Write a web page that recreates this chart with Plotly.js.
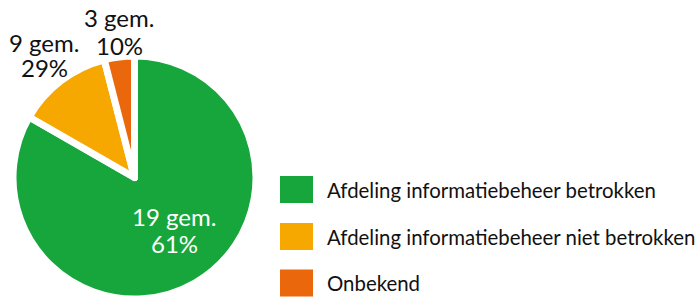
<!DOCTYPE html>
<html>
<head>
<meta charset="utf-8">
<script src="https://cdn.plot.ly/plotly-3.0.1.min.js"></script>
<style>html,body{margin:0;padding:0;background:#fff;}#chart{width:698px;height:299px;}</style>
</head>
<body>
<div id="chart"></div>
<script>
// Data
const categories = ["Afdeling informatiebeheer betrokken", "Afdeling informatiebeheer niet betrokken", "Onbekend"];
const sliceValues = [83.3, 12.7, 4.0];     // slice sizes as drawn (angles)
const municipalityCounts = [19, 9, 3];     // "gem." labels
const percentLabels = [61, 29, 10];        // percentage labels
const colors = ["#17a63b", "#f6a800", "#eb670b"];

const W = 698, H = 299;
const FONT = "Lato, 'Open Sans', sans-serif";

const trace = {
  type: "pie",
  labels: categories,
  values: sliceValues,
  textinfo: "none",
  sort: false,
  direction: "clockwise",
  rotation: 0,
  marker: {colors: colors, line: {color: "#ffffff", width: 7}},
  hoverinfo: "none",
  showlegend: false,
  automargin: false,
  domain: {x: [0, 269 / W], y: [0, 243 / H]}
};

const shapes = [], annotations = [];
const px = x => x / W, py = y => 1 - y / H;

// Slice labels (text from the data arrays)
const labelPos = [
  {x: 174, y1: 216, y2: 243, color: "#ffffff"},
  {x: 44, y1: 42, y2: 68, color: "#111111"},
  {x: 119, y1: 18, y2: 45, color: "#111111"}
];
municipalityCounts.forEach((c, i) => {
  const p = labelPos[i];
  annotations.push({xref: "paper", yref: "paper", x: px(p.x), y: py(p.y1), xanchor: "center", yanchor: "middle",
    showarrow: false, text: c + " gem.", font: {family: FONT, size: 24, color: p.color}});
  annotations.push({xref: "paper", yref: "paper", x: px(p.x), y: py(p.y2), xanchor: "center", yanchor: "middle",
    showarrow: false, text: percentLabels[i] + "%", font: {family: FONT, size: 24, color: p.color}});
});

// Custom legend built from the category/color arrays
const rowY = [189.5, 236.5, 283];
categories.forEach((c, i) => {
  shapes.push({
    type: "rect", xref: "paper", yref: "paper", layer: "above",
    x0: px(280), x1: px(313),
    y0: py(rowY[i] + 13.5), y1: py(rowY[i] - 13.5),
    fillcolor: colors[i], line: {width: 0}
  });
  annotations.push({
    xref: "paper", yref: "paper", x: px(325), y: py(rowY[i]),
    xanchor: "left", yanchor: "middle", showarrow: false,
    text: c, font: {family: FONT, size: 20.4, color: "#111111"}
  });
});

const layout = {
  width: W, height: H,
  margin: {l: 0, r: 0, t: 0, b: 0},
  paper_bgcolor: "#ffffff",
  showlegend: false,
  shapes: shapes,
  annotations: annotations,
  font: {family: FONT}
};

Plotly.newPlot("chart", [trace], layout, {displayModeBar: false, staticPlot: true});
</script>
</body>
</html>
